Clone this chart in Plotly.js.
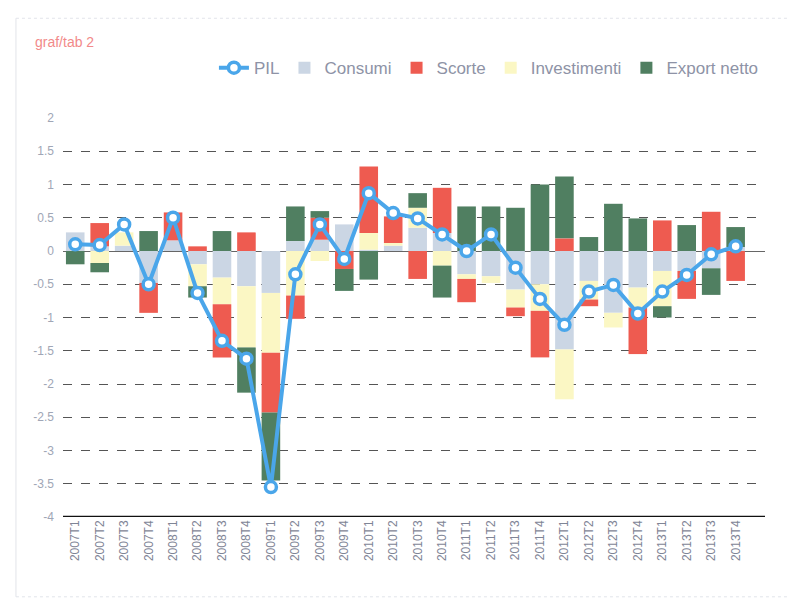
<!DOCTYPE html>
<html>
<head>
<meta charset="utf-8">
<script src="https://cdn.plot.ly/plotly-3.0.1.min.js"></script>
<style>html,body{margin:0;padding:0;background:#fff;}#chart{width:787px;height:613px;}</style>
</head>
<body>
<div id="chart"></div>
<script>
const quarters = ["2007T1","2007T2","2007T3","2007T4","2008T1","2008T2","2008T3","2008T4",
  "2009T1","2009T2","2009T3","2009T4","2010T1","2010T2","2010T3","2010T4",
  "2011T1","2011T2","2011T3","2011T4","2012T1","2012T2","2012T3","2012T4",
  "2013T1","2013T2","2013T3","2013T4"];
const pil          = [0.1, 0.09, 0.4, -0.5, 0.5, -0.63, -1.35, -1.62, -3.55, -0.35, 0.4, -0.12, 0.87, 0.57, 0.49, 0.25, 0.0, 0.25, -0.25, -0.72, -1.11, -0.61, -0.51, -0.94, -0.61, -0.36, -0.05, 0.07];
const consumi      = [0.28, 0.07, 0.08, -0.48, 0.16, -0.2, -0.4, -0.53, -0.63, 0.15, 0.17, 0.4, 0.02, 0.08, 0.35, 0.27, -0.35, -0.38, -0.58, -0.5, -1.48, -0.45, -0.93, -0.55, -0.3, -0.3, -0.26, 0.06];
const investimenti = [0.0, -0.18, 0.2, 0.0, 0.0, -0.33, -0.4, -0.92, -0.9, -0.67, -0.15, 0.0, 0.25, 0.04, 0.3, -0.22, -0.07, -0.1, -0.27, -0.4, -0.75, -0.28, -0.22, -0.3, -0.53, 0.0, 0.0, 0.0];
const scorte       = [0.0, 0.35, 0.0, -0.45, 0.42, 0.07, -0.8, 0.28, -0.9, -0.35, 0.33, -0.27, 1.0, 0.4, -0.42, 0.68, -0.35, 0.0, -0.13, -0.7, 0.19, -0.1, 0.0, -0.7, 0.46, -0.42, 0.59, -0.45];
const exportNetto  = [-0.2, -0.14, 0.0, 0.3, 0.0, -0.17, 0.3, -0.68, -1.02, 0.52, 0.1, -0.33, -0.43, 0.0, 0.22, -0.48, 0.67, 0.67, 0.65, 1.0, 0.93, 0.21, 0.71, 0.49, -0.17, 0.39, -0.4, 0.3];
const yTicks = [2, 1.5, 1, 0.5, 0, -0.5, -1, -1.5, -2, -2.5, -3, -3.5, -4];

const bw = 0.76;
const traces = [
  {type:'bar', name:'Consumi', x:quarters, y:consumi, width:bw, marker:{color:'#cbd6e4'}, legendrank:2},
  {type:'bar', name:'Investimenti', x:quarters, y:investimenti, width:bw, marker:{color:'#fbf7c4'}, legendrank:4},
  {type:'bar', name:'Scorte', x:quarters, y:scorte, width:bw, marker:{color:'#ee5b50'}, legendrank:3},
  {type:'bar', name:'Export netto', x:quarters, y:exportNetto, width:bw, marker:{color:'#507f61'}, legendrank:5},
  {type:'scatter', mode:'lines+markers', name:'PIL', x:quarters, y:pil, legendrank:1,
   line:{color:'#4aa6ea', width:4},
   marker:{symbol:'circle', size:11, color:'#ffffff', line:{color:'#4aa6ea', width:3.5}}}
];

const layout = {
  width:787, height:613,
  paper_bgcolor:'#ffffff', plot_bgcolor:'#ffffff',
  margin:{l:63, r:22, t:118, b:96},
  barmode:'relative',
  showlegend:true,
  legend:{orientation:'h', x:0.215, xanchor:'left', y:1.125, yanchor:'middle',
    font:{family:'Arial, Liberation Sans, sans-serif', size:17, color:'#8e93a6'},
    itemwidth:30, traceorder:'normal'},
  xaxis:{type:'category', range:[-0.5, 28.2], showgrid:false, zeroline:false,
    showline:false, ticks:'', tickangle:-90,
    tickfont:{family:'Arial, Liberation Sans, sans-serif', size:12, color:'#7f8596'}},
  yaxis:{range:[-4, 2], tickvals:yTicks, ticktext:yTicks.map(v=>String(v)),
    showgrid:true, gridcolor:'#555555', griddash:'dash', gridwidth:1,
    zeroline:true, zerolinecolor:'#666666', zerolinewidth:1,
    showline:false, ticks:'', ticklabelstandoff:8,
    tickfont:{family:'Arial, Liberation Sans, sans-serif', size:12, color:'#a0a6b6'}},
  annotations:[
    {text:'graf/tab 2', xref:'paper', yref:'paper', x:-0.043, y:1.19, xanchor:'left', yanchor:'middle',
     showarrow:false, font:{family:'Arial, Liberation Sans, sans-serif', size:14, color:'#f28a8a'}}
  ],
  shapes:[
    {type:'line', xref:'paper', yref:'y', x0:0.0, x1:1.0, y0:-4, y1:-4, line:{color:'#111111', width:2.5}},
    {type:'line', xref:'paper', yref:'paper', x0:-0.067, x1:-0.067, y0:-0.2, y1:1.25, line:{color:'#e2e4ea', width:1}},
    {type:'line', xref:'paper', yref:'paper', x0:-0.067, x1:1.05, y0:1.25, y1:1.25, line:{color:'#e2e4ea', width:1, dash:'dot'}},
    {type:'line', xref:'paper', yref:'paper', x0:-0.067, x1:1.05, y0:-0.2, y1:-0.2, line:{color:'#e2e4ea', width:1, dash:'dot'}}
  ]
};

Plotly.newPlot('chart', traces, layout, {displayModeBar:false, staticPlot:true});
</script>
</body>
</html>
